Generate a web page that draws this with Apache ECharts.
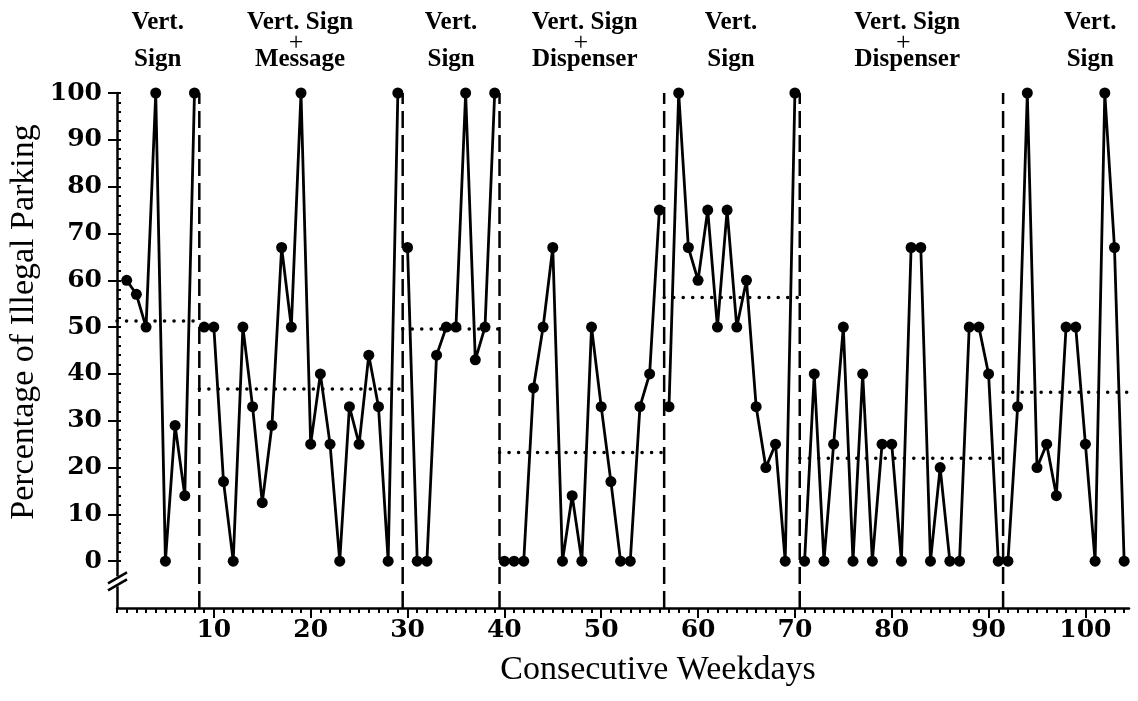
<!DOCTYPE html>
<html>
<head>
<meta charset="utf-8">
<script src="https://cdn.jsdelivr.net/npm/echarts@6/dist/echarts.min.js"></script>
<style>
html, body { margin: 0; padding: 0; background: #fff; }
#chart { width: 1138px; height: 701px; }
</style>
</head>
<body>
<div id="chart"></div>
<script>
// percentage of illegal parking, one array per phase (consecutive weekdays)
var vertSign1 = [60, 57, 50, 100, 0, 29, 14, 100];
var signMessage = [50, 50, 17, 0, 50, 33, 12.5, 29, 67, 50, 100, 25, 40, 25, 0, 33, 25, 44, 33, 0, 100];
var vertSign2 = [67, 0, 0, 44, 50, 50, 100, 43, 50, 100];
var signDispenser1 = [0, 0, 0, 37, 50, 67, 0, 14, 0, 50, 33, 17, 0, 0, 33, 40, 75];
var vertSign3 = [33, 100, 67, 60, 75, 50, 75, 50, 60, 33, 20, 25, 0, 100];
var signDispenser2 = [0, 40, 0, 25, 50, 0, 40, 0, 25, 25, 0, 67, 67, 0, 20, 0, 0, 50, 50, 40, 0];
var vertSign4 = [0, 33, 100, 20, 25, 14, 50, 50, 25, 0, 100, 67, 0];

// phase change lines (between days) and phase means
var phaseBreaks = [8.5, 29.5, 39.5, 56.5, 70.5, 91.5];
var phaseMeans = [51.3, 36.8, 49.6, 23.2, 56.3, 22.0, 36.1];
var phaseLabels = [
    ['Vert.', 'Sign'],
    ['Vert. Sign', '+', 'Message'],
    ['Vert.', 'Sign'],
    ['Vert. Sign', '+', 'Dispenser'],
    ['Vert.', 'Sign'],
    ['Vert. Sign', '+', 'Dispenser'],
    ['Vert.', 'Sign']
];
var phaseLabelDay = [4.2, 18.9, 34.5, 48.3, 63.4, 81.6, 100.5];

var xTickLabels = [10, 20, 30, 40, 50, 60, 70, 80, 90, 100];
var yTickLabels = [0, 10, 20, 30, 40, 50, 60, 70, 80, 90, 100];
var xMin = 0, xMax = 104.5, yMin = -10, yMax = 100;

var phases = [vertSign1, signMessage, vertSign2, signDispenser1, vertSign3, signDispenser2, vertSign4];

var xMinorTicks = [];
for (var d = 0; d <= 104; d++) xMinorTicks.push(d);
var yMinorTicks = [];
for (var v = 0; v <= 100; v += 2) yMinorTicks.push(v);

var series = [];
var day = 1;
phases.forEach(function (vals) {
    var pts = [];
    vals.forEach(function (val) { pts.push([day, val]); day++; });
    series.push({
        type: 'line', data: pts, symbol: 'circle', symbolSize: 11, z: 5,
        lineStyle: { color: '#000', width: 2.8 },
        itemStyle: { color: '#000' }
    });
});
var bounds = [xMin].concat(phaseBreaks).concat([xMax]);
phaseMeans.forEach(function (m, i) {
    series.push({
        type: 'line', data: [[bounds[i], m], [bounds[i + 1], m]], symbol: 'none', z: 2,
        lineStyle: { color: '#000', width: 3.5, type: [0.1, 9.4], cap: 'round' }
    });
});
phaseBreaks.forEach(function (b) {
    series.push({
        type: 'line', data: [[b, yMin], [b, yMax]], symbol: 'none', z: 2,
        lineStyle: { color: '#000', width: 2.5, type: [17, 7] }
    });
});

var tickFont = { fontFamily: 'DejaVu Serif', fontWeight: 'bold', fontSize: 25, color: '#000' };

var myChart = echarts.init(document.getElementById('chart'));
var option = {
    animation: false,
    grid: { left: 117, right: 9, top: 93, bottom: 93 },
    xAxis: [
        {
            type: 'value', min: xMin, max: xMax, position: 'bottom',
            axisLine: { show: true, onZero: false, lineStyle: { color: '#000', width: 2.5 } },
            axisTick: { show: true, customValues: xMinorTicks, length: 5, lineStyle: { color: '#000', width: 2 } },
            axisLabel: { show: false },
            splitLine: { show: false }
        },
        {
            type: 'value', min: xMin, max: xMax, position: 'bottom',
            axisLine: { show: false, onZero: false },
            axisTick: { show: true, customValues: xTickLabels, length: 10, lineStyle: { color: '#000', width: 2 } },
            axisLabel: Object.assign({ customValues: xTickLabels, margin: 10 }, tickFont),
            splitLine: { show: false }
        }
    ],
    yAxis: [
        {
            type: 'value', min: yMin, max: yMax, position: 'left',
            axisLine: { show: true, onZero: false, lineStyle: { color: '#000', width: 2.5 } },
            axisTick: { show: true, inside: true, customValues: yMinorTicks, length: 4, lineStyle: { color: '#000', width: 2 } },
            axisLabel: { show: false },
            splitLine: { show: false }
        },
        {
            type: 'value', min: yMin, max: yMax, position: 'left',
            axisLine: { show: false, onZero: false },
            axisTick: { show: true, customValues: yTickLabels, length: 9, lineStyle: { color: '#000', width: 2 } },
            axisLabel: Object.assign({ customValues: yTickLabels, margin: 15 }, tickFont),
            splitLine: { show: false }
        }
    ],
    series: series
};
myChart.setOption(option);

// titles, phase labels, and the axis break
var ax = myChart.convertToPixel({ xAxisIndex: 0 }, 0);
var mid = myChart.convertToPixel({ yAxisIndex: 0 }, -4.3);
var labelFont = 'bold 25px "Liberation Serif"';
var graphics = [
    { type: 'rect', shape: { x: ax - 3, y: mid - 5, width: 6, height: 10 }, style: { fill: '#fff' }, z: 100 },
    { type: 'line', shape: { x1: ax - 9, y1: mid + 2, x2: ax + 10, y2: mid - 9 }, style: { stroke: '#000', lineWidth: 2.5 }, z: 101 },
    { type: 'line', shape: { x1: ax - 9, y1: mid + 9, x2: ax + 10, y2: mid - 2 }, style: { stroke: '#000', lineWidth: 2.5 }, z: 101 },
    {
        type: 'text', x: 658, y: 670,
        style: { text: 'Consecutive Weekdays', font: '34px "Liberation Serif"', fill: '#000', textAlign: 'center', textVerticalAlign: 'middle' }
    },
    {
        type: 'text', x: 24, y: 322, rotation: Math.PI / 2,
        style: { text: 'Percentage of Illegal Parking', font: '34px "Liberation Serif"', fill: '#000', textAlign: 'center', textVerticalAlign: 'middle' }
    }
];
phaseLabels.forEach(function (lines, i) {
    var cx = myChart.convertToPixel({ xAxisIndex: 0 }, phaseLabelDay[i]);
    graphics.push({ type: 'text', x: cx, y: 23, style: { text: lines[0], font: labelFont, fill: '#000', textAlign: 'center', textVerticalAlign: 'middle' } });
    if (lines.length === 3) {
        graphics.push({ type: 'text', x: cx - 4, y: 43, style: { text: lines[1], font: '26px "Liberation Serif"', fill: '#000', textAlign: 'center', textVerticalAlign: 'middle' } });
    }
    graphics.push({ type: 'text', x: cx, y: 60, style: { text: lines[lines.length - 1], font: labelFont, fill: '#000', textAlign: 'center', textVerticalAlign: 'middle' } });
});
myChart.setOption({ graphic: graphics });
</script>
</body>
</html>
